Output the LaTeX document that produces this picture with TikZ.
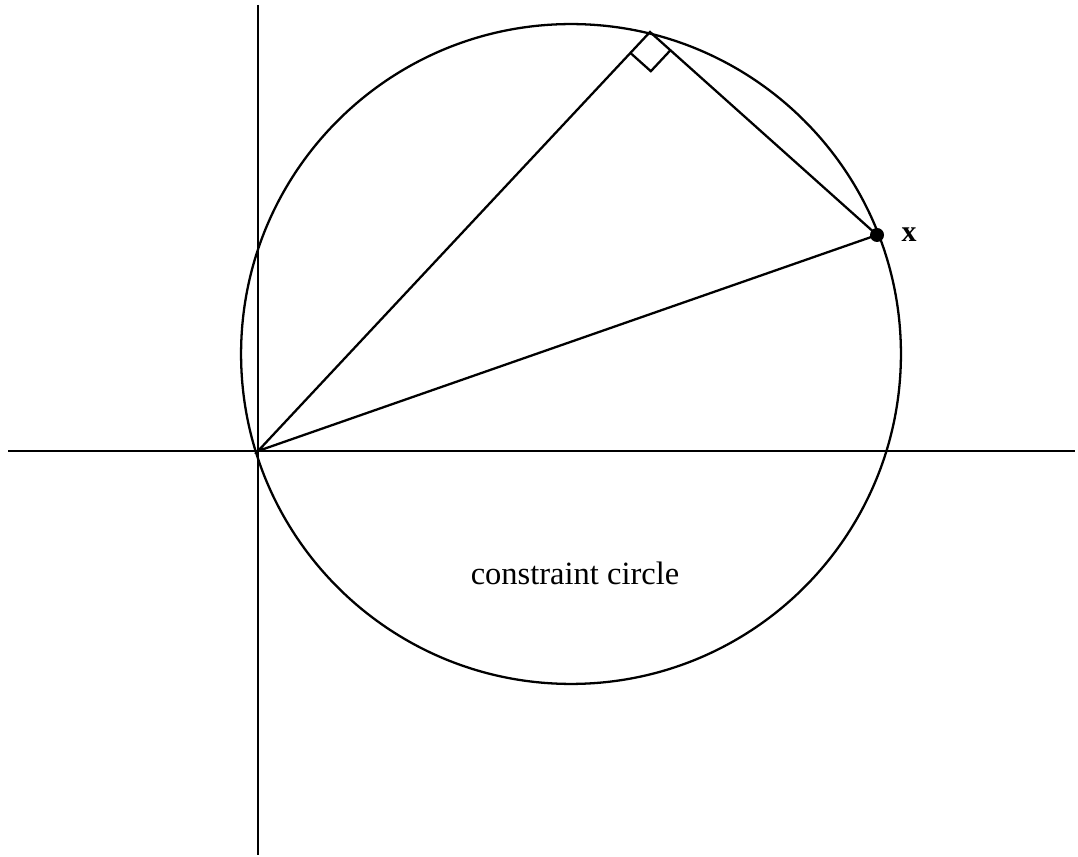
\documentclass[tikz,border=0pt]{standalone}
\usepackage{fontspec}
\setmainfont{Liberation Serif}
\usetikzlibrary{calc}
\begin{document}
\begin{tikzpicture}[x = 0.02cm, y = -0.02cm, line width = 1.3pt]
		\useasboundingbox (0,0) rectangle (1078,857);
		\coordinate (O) at (258,451);
		\coordinate (X) at (877,235);
		\coordinate (P) at (650,32);
		\coordinate (C) at (571,354);
		\draw (258,5)--(258,855);
		\draw (8,451)--(1075,451);
		\draw (C) circle [radius = 6.6cm];
		\draw (O)--(P)--(X)--cycle;
		\coordinate (A) at ($(P)!0.05!(O)$);
		\coordinate (B) at ($(P)!0.09!(X)$);
		\draw (A)--($(A)+(B)-(P)$)--(B);
		\fill (X) circle [radius = 0.14cm];
		\node (xlabel) at (X)[right = 0.35cm]{\fontsize{17}{20}\selectfont\bfseries x};
		\node (cc) at (575,573){\fontsize{18.5}{22}\selectfont constraint circle};
	\end{tikzpicture}
\end{document}
